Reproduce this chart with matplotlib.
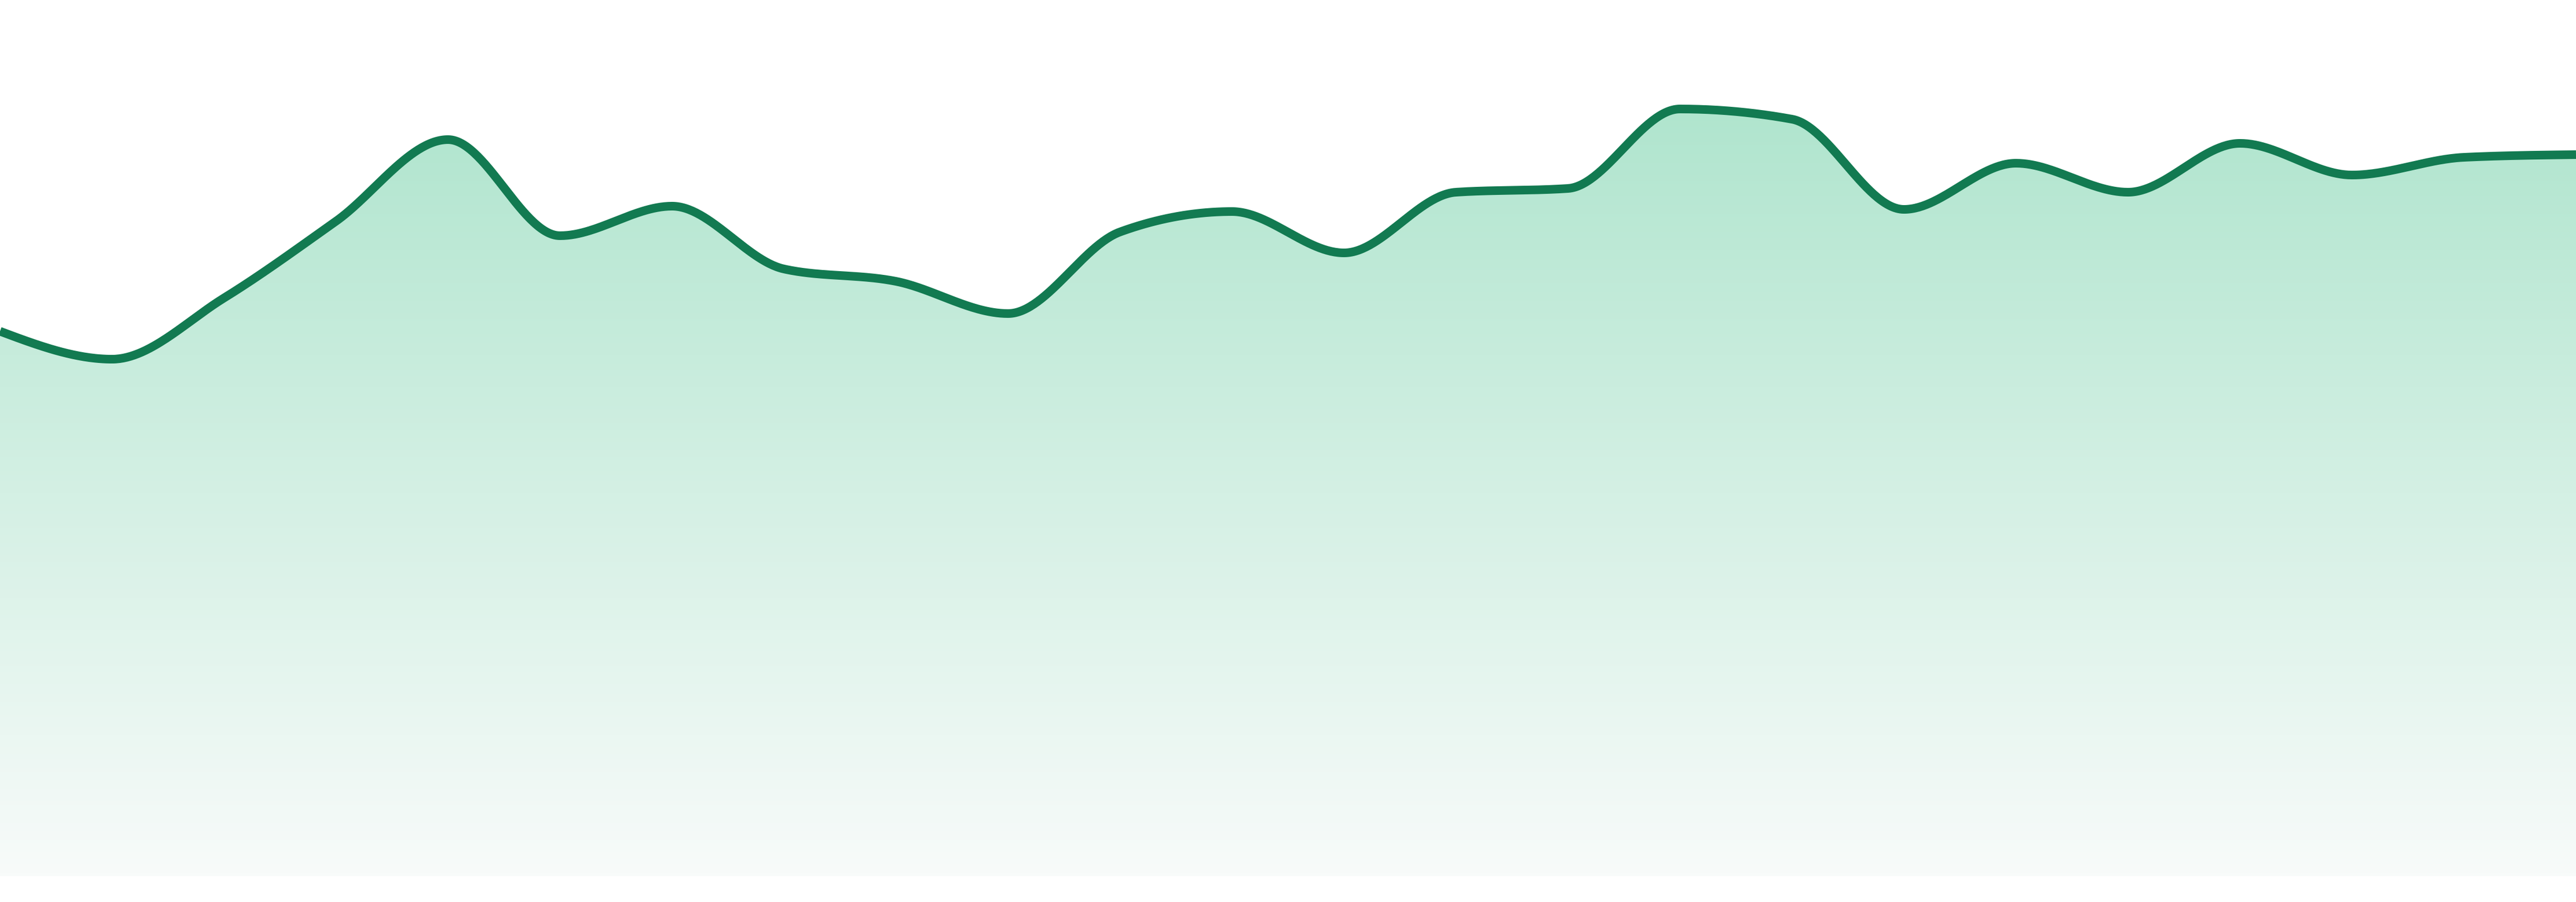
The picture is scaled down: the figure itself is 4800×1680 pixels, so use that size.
import numpy as np
import matplotlib
matplotlib.use("Agg")
import matplotlib.pyplot as plt
from matplotlib.colors import LinearSegmentedColormap

# values (24 evenly spaced points)
valores = [101.5, 96.3, 107.7, 122.0, 137.2, 119.3, 124.8, 113.1,
           110.8, 104.8, 120.0, 123.8, 116.1, 127.4, 128.1, 142.9,
           141.0, 124.2, 132.8, 127.4, 136.5, 130.6, 133.9, 134.4]
puntos = list(range(len(valores)))

color_linea = "#127a51"
color_arriba = "#b0e5ce"
color_abajo = "#f8fbfa"


def pendientes_monotonas(x, y):
    # same slopes as d3.curveMonotoneX
    n = len(x)
    t = np.zeros(n)
    for i in range(1, n - 1):
        h0 = x[i] - x[i - 1]
        h1 = x[i + 1] - x[i]
        s0 = (y[i] - y[i - 1]) / h0
        s1 = (y[i + 1] - y[i]) / h1
        p = (s0 * h1 + s1 * h0) / (h0 + h1)
        t[i] = (np.sign(s0) + np.sign(s1)) * min(abs(s0), abs(s1), 0.5 * abs(p))
    h = x[1] - x[0]
    t[0] = (3 * (y[1] - y[0]) / h - t[1]) / 2
    h = x[-1] - x[-2]
    t[-1] = (3 * (y[-1] - y[-2]) / h - t[-2]) / 2
    return t


def curva_suave(x, y, pasos=60):
    x = np.asarray(x, float)
    y = np.asarray(y, float)
    t = pendientes_monotonas(x, y)
    xs, ys = [], []
    for i in range(len(x) - 1):
        dx = x[i + 1] - x[i]
        u = np.linspace(0, 1, pasos, endpoint=(i == len(x) - 2))
        h00 = 2 * u**3 - 3 * u**2 + 1
        h10 = u**3 - 2 * u**2 + u
        h01 = -2 * u**3 + 3 * u**2
        h11 = u**3 - u**2
        xs.append(x[i] + u * dx)
        ys.append(h00 * y[i] + h10 * dx * t[i] + h01 * y[i + 1] + h11 * dx * t[i + 1])
    return np.concatenate(xs), np.concatenate(ys)


def generar_grafico():
    xs, ys = curva_suave(puntos, valores)

    fig = plt.figure(figsize=(16, 5.6), dpi=300)
    ax = fig.add_axes([0, 0, 1, 1])
    ax.set_xlim(0, len(valores) - 1)
    ax.set_ylim(-4.8, 163.2)
    ax.axis("off")

    # area con degradado
    relleno = ax.fill_between(xs, 0, ys, color="none", lw=0)
    cmap = LinearSegmentedColormap.from_list("verde", [color_abajo, color_arriba])
    grad = np.linspace(0, 1, 256).reshape(-1, 1)
    img = ax.imshow(grad, cmap=cmap, aspect="auto", origin="lower",
                    extent=[0, len(valores) - 1, 0, max(valores)], zorder=1)
    img.set_clip_path(relleno.get_paths()[0], transform=ax.transData)

    ax.plot(xs, ys, color=color_linea, lw=3.85, solid_capstyle="butt", zorder=2)

    fig.savefig("out.png", dpi=300)


if __name__ == "__main__":
    generar_grafico()
